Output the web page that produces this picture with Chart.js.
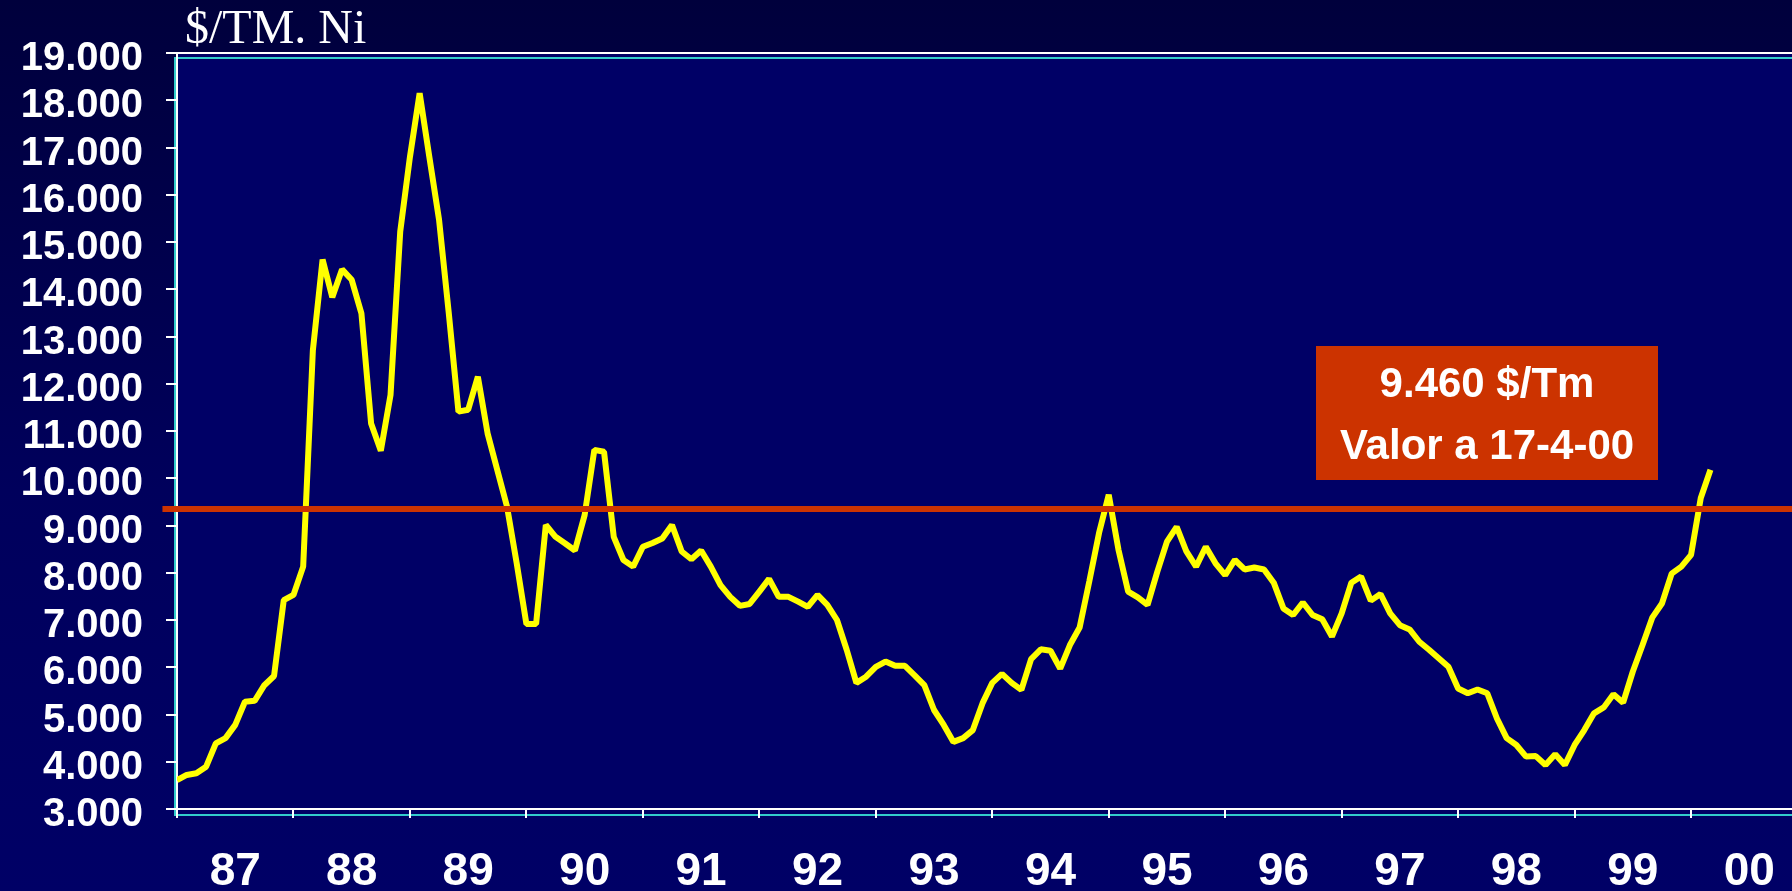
<!DOCTYPE html>
<html><head><meta charset="utf-8">
<script src="https://cdn.jsdelivr.net/npm/chart.js@4"></script>
<style>html,body{margin:0;padding:0;background:#000050;overflow:hidden}canvas{display:block}</style>
</head><body>
<canvas id="c" width="1792" height="891" style="width:1792px;height:891px"></canvas>
<script>
// Year labels (one per calendar year, 1987 .. 2000)
const yearLabels = ['87','88','89','90','91','92','93','94','95','96','97','98','99','00'];
// Monthly nickel price, $/t, Jan 1987 .. Mar 2000
const nickelPrice = [
  3610,3720,3755,3895,4390,4500,4780,5270,5290,5620,5815,7420,
  7530,8130,12710,14630,13830,14420,14200,13490,11160,10580,11760,15220,
  16800,18150,16800,15470,13500,11410,11450,12150,10950,10175,9400,8200,
  6915,6915,9010,8760,8620,8470,9220,10600,10560,8760,8270,8130,
  8550,8630,8725,9010,8450,8285,8470,8130,7740,7490,7300,7340,
  7600,7870,7490,7490,7390,7280,7530,7320,7000,6370,5670,5800,
  6010,6120,6030,6030,5830,5620,5095,4780,4420,4500,4670,5240,
  5670,5860,5670,5520,6170,6380,6350,5970,6470,6840,7820,8840,
  9650,8490,7600,7480,7320,8020,8660,8970,8450,8130,8550,8200,
  7950,8270,8070,8110,8070,7790,7245,7106,7370,7106,7014,6650,
  7140,7790,7920,7410,7550,7140,6890,6800,6540,6370,6190,6010,
  5550,5450,5530,5450,4915,4500,4355,4110,4120,3930,4160,3930,
  4355,4670,5025,5150,5430,5250,5910,6470,7050,7350,7980,8130,
  8380,9580,10180
];
// Reference level line as drawn, and its label
const refLevel = 9350;
const refText = ['9.460 $/Tm', 'Valor a 17-4-00'];
const unitLabel = '$/TM. Ni';
const yMin = 3000, yMax = 19000, yStep = 1000;
const monthsShown = 166.4;   // visible months on the x axis
const refStart = -1.5;       // reference line starts slightly left of the axis

const SANS = "'Liberation Sans', Arial, sans-serif";
const SERIF = "'Liberation Serif', 'Times New Roman', serif";

const bgPlugin = {
  id: 'bg',
  beforeDraw(chart) {
    const {ctx, chartArea: a, width, height} = chart;
    ctx.save();
    const g = ctx.createLinearGradient(0, 0, 0, height);
    g.addColorStop(0, '#00003c');
    g.addColorStop(0.55, '#00005c');
    g.addColorStop(1, '#000066');
    ctx.fillStyle = g;
    ctx.fillRect(0, 0, width, height);
    ctx.fillStyle = '#000066';
    ctx.fillRect(a.left, a.top, a.right - a.left, a.bottom - a.top);
    // cyan inner frame
    ctx.strokeStyle = '#33cccc';
    ctx.lineWidth = 2;
    ctx.beginPath();
    ctx.moveTo(a.right, a.top + 5);
    ctx.lineTo(a.left - 2, a.top + 5);
    ctx.lineTo(a.left - 2, a.bottom + 6);
    ctx.lineTo(a.right, a.bottom + 6);
    ctx.stroke();
    // white top border
    ctx.strokeStyle = '#ffffff';
    ctx.beginPath();
    ctx.moveTo(a.left - 11, a.top);
    ctx.lineTo(a.right, a.top);
    ctx.stroke();
    ctx.restore();
  }
};

const textPlugin = {
  id: 'texts',
  afterDraw(chart) {
    const {ctx, chartArea: a} = chart;
    const xs = chart.scales.x;
    ctx.save();
    // unit label
    ctx.fillStyle = '#ffffff';
    ctx.font = '48px ' + SERIF;
    ctx.textAlign = 'left';
    ctx.textBaseline = 'alphabetic';
    ctx.fillText(unitLabel, a.left + 8, a.top - 10);
    // year labels centred in each year
    ctx.font = 'bold 46px ' + SANS;
    ctx.textAlign = 'center';
    yearLabels.forEach((lab, k) => {
      ctx.fillText(lab, xs.getPixelForValue(12 * k + 6), a.bottom + 76);
    });
    // annotation box
    const bx = 1316, by = 346, bw = 342, bh = 134;
    ctx.fillStyle = '#cc3300';
    ctx.fillRect(bx, by, bw, bh);
    ctx.fillStyle = '#ffffff';
    ctx.font = 'bold 42px ' + SANS;
    ctx.fillText(refText[0], bx + bw / 2, by + 51);
    ctx.fillText(refText[1], bx + bw / 2, by + 113);
    ctx.restore();
  }
};

new Chart(document.getElementById('c'), {
  type: 'line',
  data: {
    datasets: [
      {
        label: 'ref',
        data: [{x: refStart, y: refLevel}, {x: monthsShown, y: refLevel}],
        borderColor: '#cc3300',
        borderWidth: 6,
        pointRadius: 0,
        clip: false
      },
      {
        label: 'price',
        data: nickelPrice.map((v, i) => ({x: i, y: v})),
        borderColor: '#ffff00',
        borderWidth: 6,
        borderJoinStyle: 'bevel',
        pointRadius: 0,
        tension: 0
      }
    ]
  },
  options: {
    responsive: false,
    animation: false,
    events: [],
    layout: {padding: {top: 53, left: 0, right: 0, bottom: 0}},
    plugins: {legend: {display: false}, tooltip: {enabled: false}},
    scales: {
      x: {
        type: 'linear',
        min: 0,
        max: monthsShown,
        afterBuildTicks: s => { s.ticks = yearLabels.map((_, k) => ({value: 12 * k})); },
        afterFit: s => { s.height = 82; },
        ticks: {display: false},
        grid: {drawOnChartArea: false, color: '#ffffff', lineWidth: 2, tickLength: 9},
        border: {color: '#ffffff', width: 2}
      },
      y: {
        min: yMin,
        max: yMax,
        afterFit: s => { s.width = 177; },
        ticks: {
          stepSize: yStep,
          autoSkip: false,
          color: '#ffffff',
          font: {family: SANS, size: 40, weight: 'bold'},
          padding: 23,
          labelOffset: 6,
          callback: v => (v / 1000).toFixed(3)
        },
        grid: {drawOnChartArea: false, color: '#ffffff', lineWidth: 2, tickLength: 11},
        border: {color: '#ffffff', width: 2}
      }
    }
  },
  plugins: [bgPlugin, textPlugin]
});
</script>
</body></html>
